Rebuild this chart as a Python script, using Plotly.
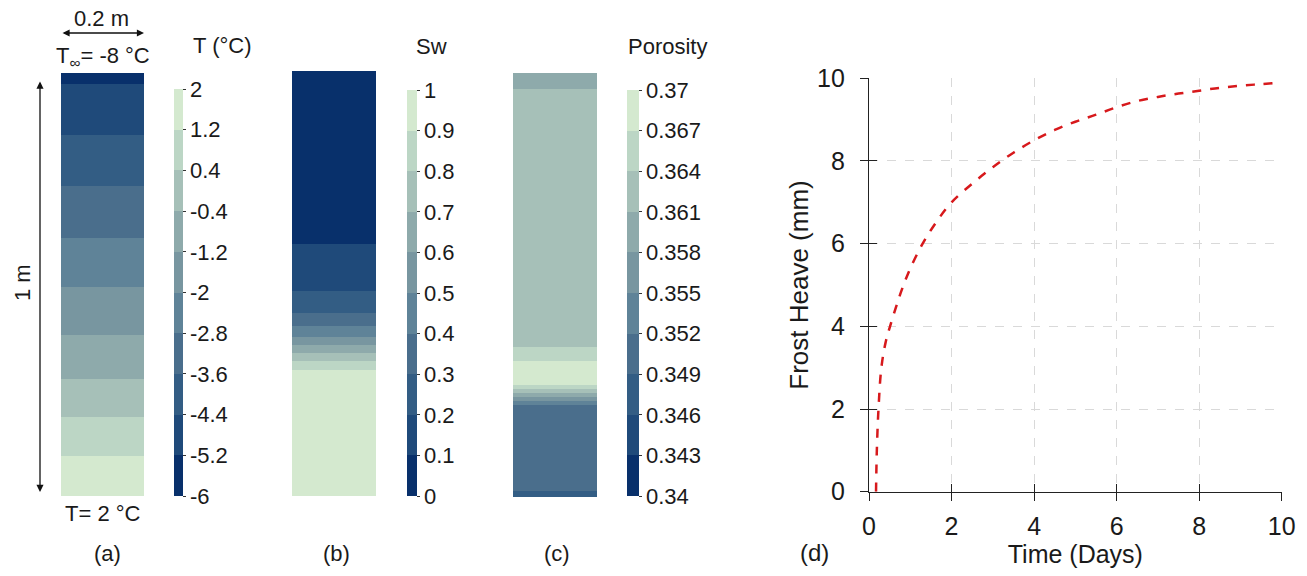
import plotly.graph_objects as go

W, H = 1307, 576

# ---------- data ----------
# discrete palette (10 bins, low -> high)
palette = ["#08306b", "#1f4a7a", "#335d84", "#4a6e8c", "#5f8398",
           "#7896a0", "#8eaaab", "#a6c0b8", "#bcd6c5", "#d4e9cf"]

# (a) temperature layers: depth edges (fraction of 1 m, from top) and layer values
temp_edges = [0.0, 0.027, 0.146, 0.268, 0.389, 0.506, 0.620, 0.723, 0.814, 0.905, 1.0]
temp_vals = [-5.6, -4.8, -4.0, -3.2, -2.4, -1.6, -0.8, 0.0, 0.8, 1.6]
temp_ticks = [-6, -5.2, -4.4, -3.6, -2.8, -2, -1.2, -0.4, 0.4, 1.2, 2]
temp_ticktext = ["-6", "-5.2", "-4.4", "-3.6", "-2.8", "-2", "-1.2", "-0.4", "0.4", "1.2", "2"]

# (b) water saturation layers
sw_edges = [0.0, 0.407, 0.518, 0.569, 0.600, 0.626, 0.645, 0.664, 0.682, 0.704, 1.0]
sw_vals = [0.05, 0.15, 0.25, 0.35, 0.45, 0.55, 0.65, 0.75, 0.85, 0.95]
sw_ticks = [0, 0.1, 0.2, 0.3, 0.4, 0.5, 0.6, 0.7, 0.8, 0.9, 1]
sw_ticktext = ["0", "0.1", "0.2", "0.3", "0.4", "0.5", "0.6", "0.7", "0.8", "0.9", "1"]

# (c) porosity layers
por_edges = [0.0, 0.038, 0.646, 0.679, 0.736, 0.745, 0.755, 0.764, 0.774, 0.783, 0.986, 1.0]
por_vals = [0.3595, 0.3625, 0.3655, 0.3685, 0.3655, 0.3625, 0.3595, 0.3565, 0.3535, 0.3505, 0.3475]
por_ticks = [0.34, 0.343, 0.346, 0.349, 0.352, 0.355, 0.358, 0.361, 0.364, 0.367, 0.37]
por_ticktext = ["0.34", "0.343", "0.346", "0.349", "0.352", "0.355", "0.358", "0.361", "0.364", "0.367", "0.37"]

col_width = [0.0, 0.2]

# (d) frost heave vs time
time_days = [0.17, 0.19, 0.23, 0.30, 0.40, 0.51, 0.65, 0.80, 1.0, 1.3, 1.65, 2.0, 2.5, 3.0,
             3.5, 4.0, 4.5, 5.0, 5.5, 6.0, 6.5, 7.0, 7.5, 8.0, 8.5, 9.0, 9.5, 10.0]
heave_mm = [0.0, 1.0, 2.0, 3.0, 3.6, 4.0, 4.45, 4.9, 5.4, 6.0, 6.55, 7.0, 7.45, 7.85,
            8.2, 8.5, 8.75, 8.95, 9.12, 9.3, 9.45, 9.55, 9.63, 9.7, 9.77, 9.82, 9.86, 9.9]
x_ticks = [0, 2, 4, 6, 8, 10]
y_ticks = [0, 2, 4, 6, 8, 10]

# ---------- helpers ----------
def discrete_scale(colors):
    n = len(colors)
    sc = []
    for i, c in enumerate(colors):
        sc.append([i / n, c])
        sc.append([(i + 1) / n, c])
    return sc

CS = discrete_scale(palette)
FONT = "Liberation Sans, Arial, sans-serif"
TXT = "#1a1a1a"

def px(x):
    return x / W

def py(y):
    return 1 - y / H

def cbar(x_left, thick, top, bottom, tickvals, ticktext):
    return dict(
        x=px(x_left), xanchor="left", xpad=0, ypad=0,
        y=py(top), yanchor="top", len=(bottom - top) / H, lenmode="fraction",
        thickness=thick, thicknessmode="pixels", outlinewidth=0,
        tickvals=tickvals, ticktext=ticktext, ticks="outside", ticklen=3,
        tickwidth=1, tickcolor="#333",
        tickfont=dict(family=FONT, size=22, color=TXT),
    )

fig = go.Figure()

fig.add_trace(go.Heatmap(
    x=col_width, y=temp_edges, z=[[v] for v in temp_vals],
    colorscale=CS, zmin=-6, zmax=2, xaxis="x", yaxis="y",
    colorbar=cbar(174, 9, 89, 496, temp_ticks, temp_ticktext), hoverinfo="skip"))

fig.add_trace(go.Heatmap(
    x=col_width, y=sw_edges, z=[[v] for v in sw_vals],
    colorscale=CS, zmin=0, zmax=1, xaxis="x2", yaxis="y2",
    colorbar=cbar(407, 10, 90, 496, sw_ticks, sw_ticktext), hoverinfo="skip"))

fig.add_trace(go.Heatmap(
    x=col_width, y=por_edges, z=[[v] for v in por_vals],
    colorscale=CS, zmin=0.34, zmax=0.37, xaxis="x3", yaxis="y3",
    colorbar=cbar(627, 12, 90, 496, por_ticks, por_ticktext), hoverinfo="skip"))

fig.add_trace(go.Scatter(
    x=time_days, y=heave_mm, mode="lines", xaxis="x4", yaxis="y4",
    line=dict(color="#d7191c", width=2.5, dash="dash", shape="spline"),
    showlegend=False))

hidden = dict(visible=False, showgrid=False, zeroline=False)

def col_axes(x0, x1, y0, y1):
    return (dict(hidden, domain=[px(x0), px(x1)], range=[0, 0.2]),
            dict(hidden, domain=[py(y1), py(y0)], range=[1, 0]))

xa1, ya1 = col_axes(61, 144, 73, 496)
xa2, ya2 = col_axes(292, 376, 71, 496)
xa3, ya3 = col_axes(513, 597, 73, 497)

dx = [px(869), px(1281.7)]
dy = [py(491.7), py(78.3)]
tickfont_d = dict(family=FONT, size=25, color=TXT)

fig.update_layout(
    width=W, height=H, margin=dict(l=0, r=0, t=0, b=0, autoexpand=False),
    paper_bgcolor="white", plot_bgcolor="white", showlegend=False,
    font=dict(family=FONT, color=TXT),
    xaxis=xa1, yaxis=ya1, xaxis2=xa2, yaxis2=ya2, xaxis3=xa3, yaxis3=ya3,
    xaxis4=dict(domain=dx, range=[0, 10], anchor="y4", tickvals=x_ticks,
                showgrid=True, gridcolor="#d9d9d9", griddash="dash", gridwidth=1,
                zeroline=False, showline=True, linecolor="#222", linewidth=1.3,
                ticks="outside", ticklen=8, tickwidth=1.3, tickcolor="#222",
                ticklabelstandoff=4, tickfont=tickfont_d, automargin=False,
                title=dict(text="Time (Days)", font=dict(family=FONT, size=25, color=TXT), standoff=2)),
    yaxis4=dict(domain=dy, range=[0, 10], anchor="x4", tickvals=y_ticks,
                showgrid=True, gridcolor="#d9d9d9", griddash="dash", gridwidth=1,
                zeroline=False, showline=True, linecolor="#222", linewidth=1.3,
                ticks="outside", ticklen=8, tickwidth=1.3, tickcolor="#222",
                ticklabelstandoff=10, tickfont=tickfont_d, automargin=False,
                title=dict(text="Frost Heave (mm)", font=dict(family=FONT, size=26, color=TXT), standoff=0)),
    # inside tick halves (crossing ticks)
    xaxis5=dict(domain=dx, range=[0, 10], anchor="y5", overlaying="x4", tickvals=x_ticks,
                showgrid=False, zeroline=False, showticklabels=False,
                ticks="inside", ticklen=8, tickwidth=1.3, tickcolor="#222"),
    yaxis5=dict(domain=dy, range=[0, 10], anchor="x5", overlaying="y4", tickvals=y_ticks,
                showgrid=False, zeroline=False, showticklabels=False,
                ticks="inside", ticklen=8, tickwidth=1.3, tickcolor="#222"),
)

# dummy trace to activate overlay axes
fig.add_trace(go.Scatter(x=[None], y=[None], xaxis="x5", yaxis="y5", showlegend=False, hoverinfo="skip"))

ann = []
def text(x, y, s, size=22, angle=0):
    ann.append(dict(x=px(x), y=py(y), xref="paper", yref="paper", text=s, showarrow=False,
                    xanchor="center", yanchor="middle", textangle=angle,
                    font=dict(family=FONT, size=size, color=TXT)))

text(102, 18, "0.2 m")
text(103, 57, "T<sub>∞</sub>= -8 °C")
text(103, 513, "T= 2 °C")
text(22, 283, "1 m", angle=-90)
text(222, 45, "T (°C)")
text(431, 47, "Sw")
text(667, 47, "Porosity")
text(107, 553, "(a)")
text(336, 553, "(b)")
text(557, 553, "(c)")
text(814, 552, "(d)", size=24)

# double-headed dimension arrows
ann.append(dict(x=px(144), y=py(33), xref="paper", yref="paper", ax=-83, ay=0,
                axref="pixel", ayref="pixel", text="", showarrow=True, arrowside="end+start",
                arrowhead=2, arrowsize=1.1, arrowwidth=1.3, arrowcolor="#111"))
ann.append(dict(x=px(40), y=py(492), xref="paper", yref="paper", ax=0, ay=-412,
                axref="pixel", ayref="pixel", text="", showarrow=True, arrowside="end+start",
                arrowhead=2, arrowsize=1.1, arrowwidth=1.3, arrowcolor="#111"))

fig.update_layout(annotations=ann)
fig.write_html("out.html", config={"displayModeBar": False},
               post_script="document.body.style.margin='0px';document.body.style.overflow='hidden';")
